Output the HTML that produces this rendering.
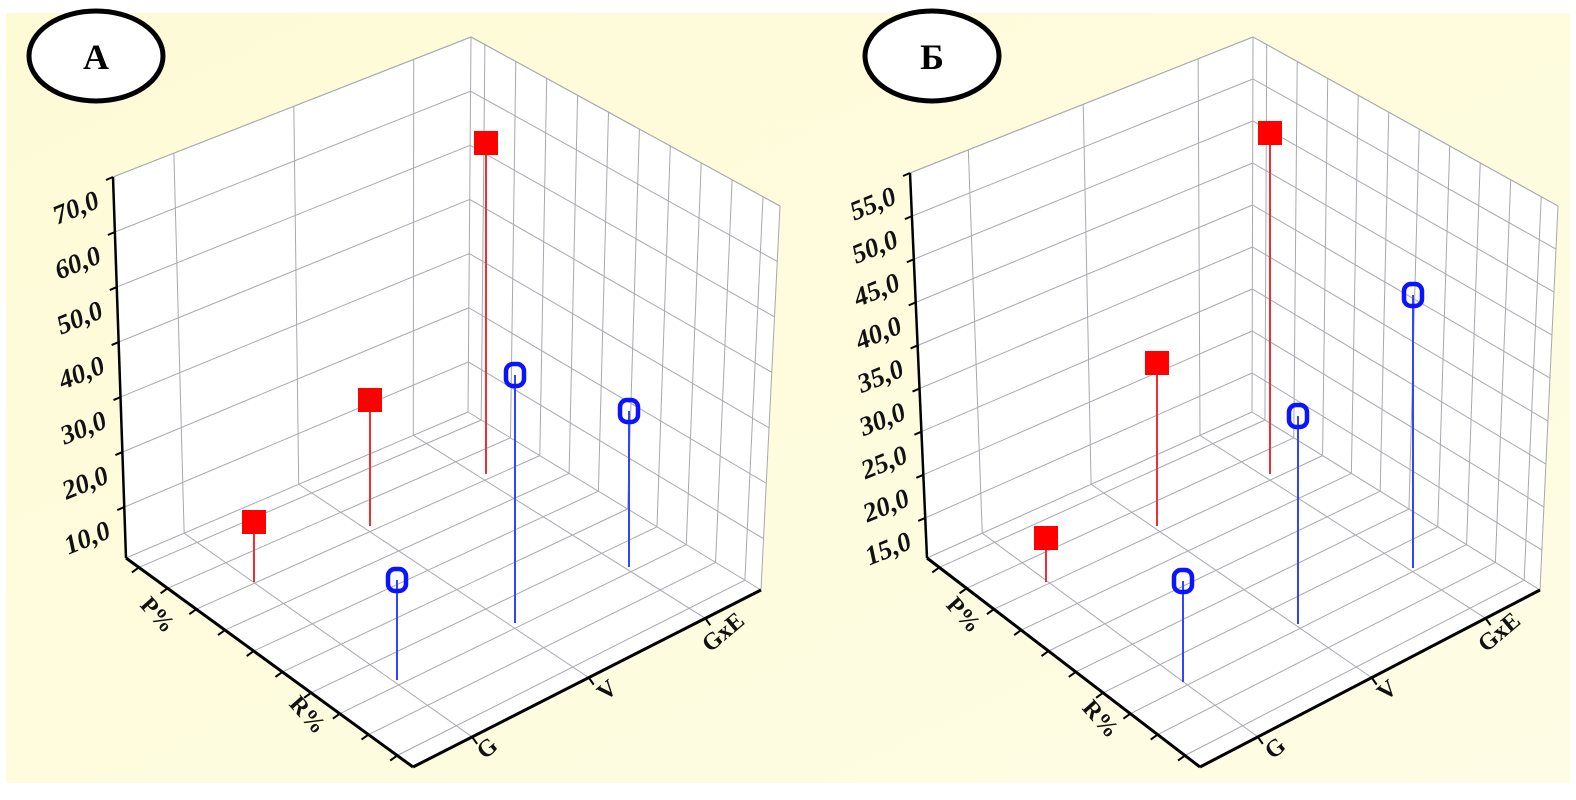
<!DOCTYPE html>
<html><head><meta charset="utf-8"><style>
html,body{margin:0;padding:0;background:#fff;}
svg{display:block}
.lab{font-family:"Liberation Serif",serif;font-weight:bold;font-style:italic;font-size:27px;fill:#111;}
.ax{font-family:"Liberation Serif",serif;font-weight:bold;font-size:24px;fill:#111;}
</style></head><body>
<svg id="s" width="1576" height="800" viewBox="0 0 1576 800" xmlns="http://www.w3.org/2000/svg">
<defs><linearGradient id="bg" x1="0" y1="0" x2="1" y2="1"><stop offset="0" stop-color="#fdfbd6"/><stop offset="1" stop-color="#fefce4"/></linearGradient></defs>
<rect x="6" y="13" width="1564" height="770" fill="url(#bg)"/>
<g id="g"></g>
<ellipse cx="96" cy="56" rx="67" ry="45" fill="#fff" stroke="#000" stroke-width="5"/>
<text x="96" y="69" text-anchor="middle" style="font-family:'Liberation Serif',serif;font-weight:bold;font-size:36px">А</text>
<ellipse cx="932" cy="56" rx="67" ry="45" fill="#fff" stroke="#000" stroke-width="5"/>
<text x="932" y="69" text-anchor="middle" style="font-family:'Liberation Serif',serif;font-weight:bold;font-size:36px">Б</text>
</svg>
<script>
var NS="http://www.w3.org/2000/svg",G=document.getElementById('g');
function el(n,a,t){var e=document.createElementNS(NS,n);for(var k in a)e.setAttribute(k,a[k]);if(t)e.textContent=t;G.appendChild(e);return e;}
function L(p,q,c,w){el('line',{x1:p[0],y1:p[1],x2:q[0],y2:q[1],stroke:c||'#a8a8b0','stroke-width':w||1});}
function lerp(p,q,t){return [p[0]+(q[0]-p[0])*t,p[1]+(q[1]-p[1])*t];}
function panel(P){
 var LT=P.LT,LB=P.LB,BT=P.BT,BB=P.BB,RT=P.RT,RB=P.RB,F=P.F;
 el('polygon',{points:[LT,BT,BB,LB].join(' '),fill:'#fff'});
 el('polygon',{points:[BT,RT,RB,BB].join(' '),fill:'#fff'});
 el('polygon',{points:[LB,BB,RB,F].join(' '),fill:'#fff'});
 for(var k=0;k<P.n;k++){var f=k*P.f;
  var a=lerp(LT,LB,f),b=lerp(BT,BB,f),c=lerp(RT,RB,f);L(a,b);L(b,c);
  var t=lerp(LT,LB,f);L([t[0]-7,t[1]+3],t,'#000',2);
 }
 [0.17,0.505,0.84].forEach(function(t){var a=lerp(LT,BT,t),b=lerp(LB,BB,t);L(a,b);
  var c=lerp(F,RB,t);L(b,c);L(c,[c[0]+5,c[1]+7],'#000',2);});
 for(var i=0;i<10;i++){var t=0.045+0.1*i;var a=lerp(BT,RT,t),b=lerp(BB,RB,t);L(a,b);
  var c=lerp(LB,F,t);L(c,b);L(c,[c[0]-7,c[1]+5],'#000',2);}
 L(LT,BT);L(BT,RT);L(RT,RB);L(BT,BB);L(LB,BB);L(BB,RB);
 L(LT,LB,'#000',2.5);L(LB,F,'#000',3);L(F,RB,'#000',3);
 P.labels.forEach(function(s,k){var t=lerp(LT,LB,k*P.f);
  el('text',{'class':'lab',x:t[0]-12,y:t[1]+30,'text-anchor':'end',transform:'rotate(-22 '+(t[0]-12)+' '+(t[1]+30)+')'},s);});
 P.ax.forEach(function(a){el('text',{'class':'ax',x:a[1],y:a[2],'text-anchor':'middle',transform:'rotate('+a[3]+' '+a[1]+' '+a[2]+')'},a[0]);});
 P.pts.forEach(function(p){var c=p[0]=='r'?'#f03030':'#3344ff';
  L([p[1],p[2]],[p[1],p[3]],c,2);
  if(p[0]=='r')el('rect',{x:p[1]-12,y:p[2]-12,width:24,height:24,fill:'#f00'});
  else el('rect',{x:p[1]-9,y:p[2]-11,width:18,height:22,rx:7,fill:'none',stroke:'#0a14ff','stroke-width':4.5});});
}
panel({LT:[113,177],LB:[126,558],BT:[471,37],BB:[468,412],RT:[780,206],RB:[761,590],F:[413,767],n:7,f:0.1444,
 labels:['70,0','60,0','50,0','40,0','30,0','20,0','10,0'],
 ax:[['P%',152,620,48],['R%',302,720,48],['G',492,754,-40],['V',612,696,-40],['GxE',728,638,-40]],
 pts:[['r',254,522,582],['r',370,400,526],['r',486,143,474],['b',397,580,680],['b',515,375,623],['b',629,411,567]]});
panel({LT:[910,173],LB:[927,558],BT:[1253,37],BB:[1252,412],RT:[1558,206],RB:[1540,590],F:[1200,767],n:9,f:0.112,
 labels:['55,0','50,0','45,0','40,0','35,0','30,0','25,0','20,0','15,0'],
 ax:[['P%',958,620,48],['R%',1095,724,48],['G',1280,754,-40],['V',1392,696,-40],['GxE',1504,638,-40]],
 pts:[['r',1046,538,582],['r',1157,363,526],['r',1270,133,474],['b',1183,581,682],['b',1298,416,624],['b',1413,295,568]]});
</script>
</body></html>
